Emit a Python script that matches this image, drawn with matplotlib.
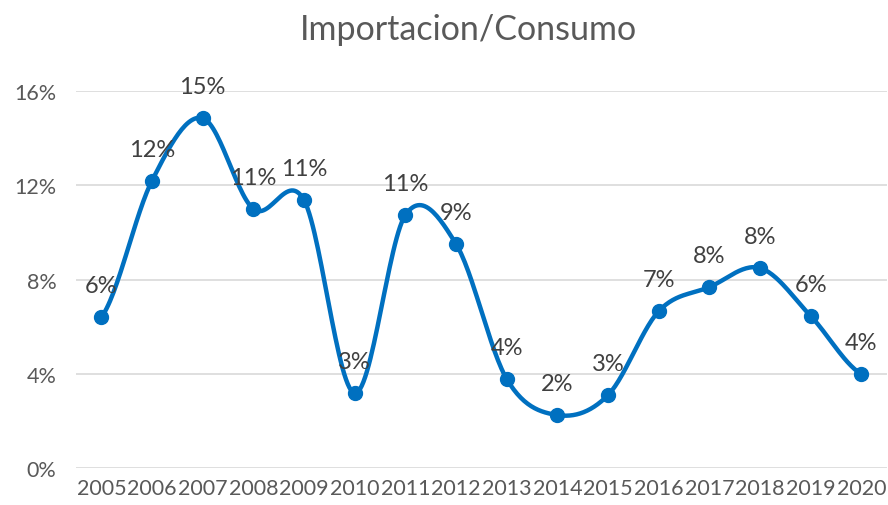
import numpy as np
import matplotlib
matplotlib.use("Agg")
import matplotlib.pyplot as plt
from matplotlib.ticker import FuncFormatter

# data
years = [2005, 2006, 2007, 2008, 2009, 2010, 2011, 2012,
         2013, 2014, 2015, 2016, 2017, 2018, 2019, 2020]
ratio = [6.4, 12.2, 14.85, 11.0, 11.37, 3.18, 10.74, 9.51,
         3.78, 2.25, 3.10, 6.66, 7.68, 8.49, 6.45, 3.99]
labels = ["6%", "12%", "15%", "11%", "11%", "3%", "11%", "9%",
          "4%", "2%", "3%", "7%", "8%", "8%", "6%", "4%"]

blue = "#0070C0"
grey = "#595959"

plt.rcParams['font.family'] = ['Lato', 'DejaVu Sans']


def smooth(x, y, n=30):
    # Catmull-Rom style curve through the points (Excel "smoothed line" look)
    x = np.asarray(x, float)
    y = np.asarray(y, float)
    px = np.concatenate([[2 * x[0] - x[1]], x, [2 * x[-1] - x[-2]]])
    py = np.concatenate([[y[0]], y, [y[-1]]])
    xs, ys = [], []
    t = np.linspace(0, 1, n)
    for i in range(1, len(px) - 2):
        p0, p1, p2, p3 = py[i - 1], py[i], py[i + 1], py[i + 2]
        q0, q1, q2, q3 = px[i - 1], px[i], px[i + 1], px[i + 2]
        f = lambda a, b, c, d: 0.5 * ((2 * b) + (-a + c) * t +
                                      (2 * a - 5 * b + 4 * c - d) * t ** 2 +
                                      (-a + 3 * b - 3 * c + d) * t ** 3)
        xs.append(f(q0, q1, q2, q3))
        ys.append(f(p0, p1, p2, p3))
    return np.concatenate(xs), np.concatenate(ys)


fig = plt.figure(figsize=(8.88, 5.06), dpi=100)
ax = fig.add_axes([0.0856, 0.073, 0.913, 0.745])

pos = np.arange(len(years))
sx, sy = smooth(pos, ratio)
ax.plot(sx, sy, color=blue, lw=3.2, solid_capstyle='round', zorder=3)
ax.plot(pos, ratio, 'o', color=blue, ms=10, zorder=4)

for p, v, lab in zip(pos, ratio, labels):
    ax.annotate(lab, (p, v), xytext=(0, 15), textcoords='offset points',
                ha='center', va='bottom', fontsize=17, color='#404040', zorder=5)

ax.set_xlim(-0.5, len(years) - 0.5)
ax.set_ylim(0, 16)
ax.set_yticks([0, 4, 8, 12, 16])
ax.yaxis.set_major_formatter(FuncFormatter(lambda v, _: "%d%%" % v))
ax.set_xticks(pos)
ax.set_xticklabels([str(y) for y in years])
ax.tick_params(axis='both', length=0, colors=grey, labelsize=15.5)
ax.tick_params(axis='y', pad=14)
ax.tick_params(axis='x', pad=7)
ax.grid(axis='y', color='#D9D9D9', lw=1.2, zorder=0)
for s in ax.spines.values():
    s.set_visible(False)

fig.text(0.528, 0.94, "Importacion/Consumo", ha='center', va='center',
         fontsize=24.5, color=grey)

fig.savefig("out.png", dpi=100, facecolor='white')
